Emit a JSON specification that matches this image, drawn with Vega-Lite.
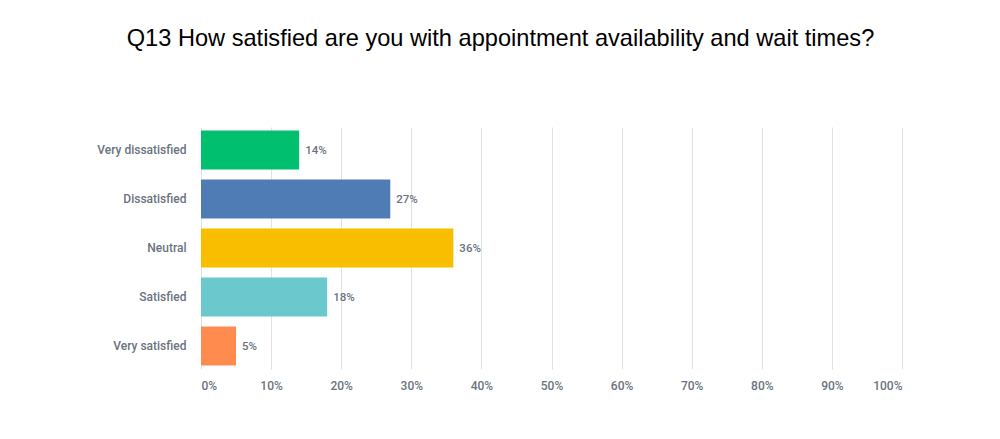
{
  "$schema": "https://vega.github.io/schema/vega-lite/v6.json",
  "width": 701,
  "height": 242,
  "autosize": {"type": "none"},
  "padding": {"left": 201, "top": 127, "right": 98, "bottom": 70},
  "background": "white",
  "title": {
    "text": "Q13 How satisfied are you with appointment availability and wait times?",
    "font": "Liberation Sans",
    "fontSize": 23.6,
    "fontWeight": "normal",
    "color": "#000000",
    "anchor": "middle",
    "dx": -51,
    "offset": 76
  },
  "data": {
    "values": [
      {"answer": "Very dissatisfied", "pct": 0.14, "label": "14%"},
      {"answer": "Dissatisfied", "pct": 0.27, "label": "27%"},
      {"answer": "Neutral", "pct": 0.36, "label": "36%"},
      {"answer": "Satisfied", "pct": 0.18, "label": "18%"},
      {"answer": "Very satisfied", "pct": 0.05, "label": "5%"}
    ]
  },
  "encoding": {
    "y": {
      "field": "answer",
      "type": "nominal",
      "sort": null,
      "scale": {"paddingInner": 0.2, "paddingOuter": 0.07},
      "axis": {
        "title": null,
        "domain": false,
        "ticks": false,
        "labelPadding": 15,
        "labelFont": "Roboto",
        "labelFontWeight": 500,
        "labelFontSize": 12,
        "labelColor": "#6a7380"
      }
    },
    "x": {
      "field": "pct",
      "type": "quantitative",
      "scale": {"domain": [0, 1], "nice": false},
      "axis": {
        "title": null,
        "format": ".0%",
        "values": [0, 0.1, 0.2, 0.3, 0.4, 0.5, 0.6, 0.7, 0.8, 0.9, 1],
        "domain": false,
        "ticks": false,
        "grid": true,
        "gridColor": "#e2e2e2",
        "gridWidth": 1,
        "labelPadding": 11,
        "labelFont": "Roboto",
        "labelFontWeight": 500,
        "labelFontSize": 12,
        "labelColor": "#6a7380"
      }
    }
  },
  "layer": [
    {
      "mark": {"type": "bar"},
      "encoding": {
        "color": {
          "field": "answer",
          "type": "nominal",
          "sort": null,
          "legend": null,
          "scale": {
            "domain": ["Very dissatisfied", "Dissatisfied", "Neutral", "Satisfied", "Very satisfied"],
            "range": ["#00bf6f", "#507cb6", "#f9be00", "#6bc8cd", "#ff8b4f"]
          }
        }
      }
    },
    {
      "mark": {
        "type": "text",
        "align": "left",
        "baseline": "middle",
        "dx": 6,
        "dy": 1,
        "font": "Roboto",
        "fontWeight": 500,
        "fontSize": 11.5,
        "color": "#6a7380"
      },
      "encoding": {
        "text": {"field": "label"}
      }
    }
  ],
  "config": {
    "view": {"stroke": null}
  }
}
